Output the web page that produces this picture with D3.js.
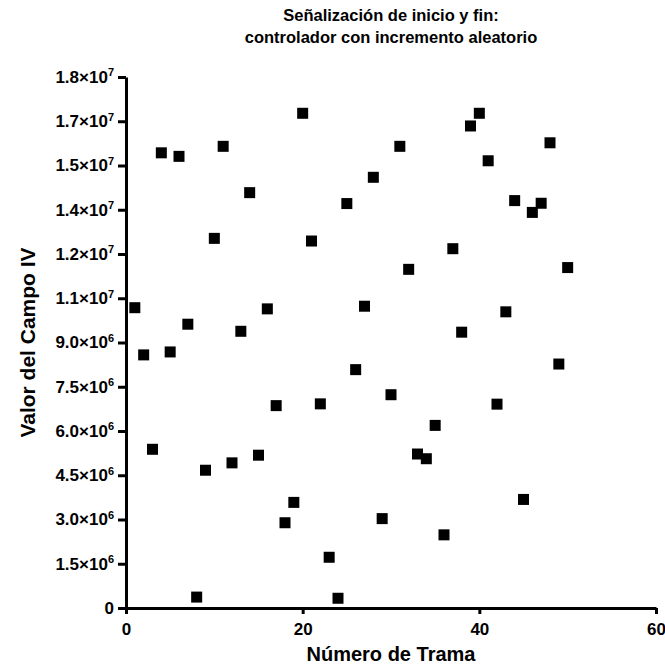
<!DOCTYPE html>
<html>
<head>
<meta charset="utf-8">
<script src="https://cdn.jsdelivr.net/npm/d3@7"></script>
<style>
    body { margin: 0; background: #fff; }
    text { font-family: "Liberation Sans", Arial, sans-serif; font-weight: bold; fill: #000; }
</style>
</head>
<body>
<div id="chart"></div>
<script>
// Data
const frames = [1, 2, 3, 4, 5, 6, 7, 8, 9, 10, 11, 12, 13, 14, 15, 16, 17, 18, 19, 20,
    21, 22, 23, 24, 25, 26, 27, 28, 29, 30, 31, 32, 33, 34, 35, 36, 37, 38, 39, 40,
    41, 42, 43, 44, 45, 46, 47, 48, 49, 50];
const fieldValues = [10.18e6, 8.58e6, 5.38e6, 15.43e6, 8.68e6, 15.31e6, 9.62e6, 0.37e6, 4.67e6, 12.53e6,
    15.65e6, 4.92e6, 9.38e6, 14.08e6, 5.18e6, 10.14e6, 6.86e6, 2.89e6, 3.58e6, 16.77e6,
    12.44e6, 6.92e6, 1.72e6, 0.33e6, 13.71e6, 8.08e6, 10.23e6, 14.60e6, 3.03e6, 7.23e6,
    15.65e6, 11.48e6, 5.22e6, 5.06e6, 6.19e6, 2.48e6, 12.18e6, 9.35e6, 16.34e6, 16.77e6,
    15.16e6, 6.91e6, 10.04e6, 13.81e6, 3.68e6, 13.41e6, 13.72e6, 15.77e6, 8.27e6, 11.54e6];

const xTicks = [0, 20, 40, 60];
const yTicks = [0, 1.5e6, 3.0e6, 4.5e6, 6.0e6, 7.5e6, 9.0e6, 10.5e6, 12e6, 13.5e6, 15e6, 16.5e6, 18e6];
const yTickMantissa = ['0', '1.5', '3.0', '4.5', '6.0', '7.5', '9.0', '1.1', '1.2', '1.4', '1.5', '1.7', '1.8'];
const yTickExponent = ['', '6', '6', '6', '6', '6', '6', '7', '7', '7', '7', '7', '7'];

const titleLines = ['Señalización de inicio y fin:', 'controlador con incremento aleatorio'];

const svgWidth = 665;
const svgHeight = 666;
const margin = { top: 77, right: 9, bottom: 58, left: 126 };
const width = svgWidth - margin.left - margin.right;
const height = svgHeight - margin.top - margin.bottom;

const svg = d3.select('#chart').append('svg')
    .attr('width', svgWidth)
    .attr('height', svgHeight);

const g = svg.append('g')
    .attr('transform', `translate(${margin.left},${margin.top})`);

const x = d3.scaleLinear().domain([0, 60]).range([0, width]);
const y = d3.scaleLinear().domain([0, 18e6]).range([height, 0]);

// x axis
const xAxis = g.append('g')
    .attr('transform', `translate(0,${height})`)
    .call(d3.axisBottom(x).tickValues(xTicks).tickSize(6).tickPadding(9).tickSizeOuter(0));
xAxis.select('.domain').attr('stroke-width', 3);
xAxis.selectAll('.tick line').attr('stroke-width', 3);
xAxis.selectAll('.tick text').attr('font-size', 17).attr('fill', '#000');

// y axis
const yAxis = g.append('g')
    .call(d3.axisLeft(y).tickValues(yTicks).tickSize(8).tickPadding(4).tickSizeOuter(0).tickFormat(() => ''));
yAxis.select('.domain').attr('stroke-width', 3);
yAxis.selectAll('.tick line').attr('stroke-width', 3);

// y tick labels with superscript exponent
yAxis.selectAll('.tick').each(function(d, i) {
    const t = d3.select(this).select('text')
        .attr('font-size', 17)
        .attr('fill', '#000');
    if (yTickExponent[i] === '') {
        t.text(yTickMantissa[i]);
    } else {
        t.append('tspan').text(yTickMantissa[i] + '×10');
        t.append('tspan').attr('font-size', 11).attr('dy', '-0.6em').text(yTickExponent[i]);
    }
});

// points
const points = frames.map((f, i) => ({ frame: f, value: fieldValues[i] }));
const size = 11;
g.append('g')
    .selectAll('rect')
    .data(points)
    .enter().append('rect')
    .attr('x', d => x(d.frame) - size / 2)
    .attr('y', d => y(d.value) - size / 2)
    .attr('width', size)
    .attr('height', size)
    .attr('fill', '#000');

// title
svg.append('text')
    .attr('x', margin.left + width / 2)
    .attr('y', 21)
    .attr('text-anchor', 'middle')
    .attr('font-size', 16.5)
    .selectAll('tspan')
    .data(titleLines)
    .enter().append('tspan')
    .attr('x', margin.left + width / 2)
    .attr('dy', (d, i) => i === 0 ? 0 : 22)
    .text(d => d);

// axis labels
svg.append('text')
    .attr('x', margin.left + width / 2)
    .attr('y', 661)
    .attr('text-anchor', 'middle')
    .attr('font-size', 20)
    .text('Número de Trama');

svg.append('text')
    .attr('transform', `translate(35,${margin.top + height / 2}) rotate(-90)`)
    .attr('text-anchor', 'middle')
    .attr('font-size', 21)
    .text('Valor del Campo IV');
</script>
</body>
</html>
